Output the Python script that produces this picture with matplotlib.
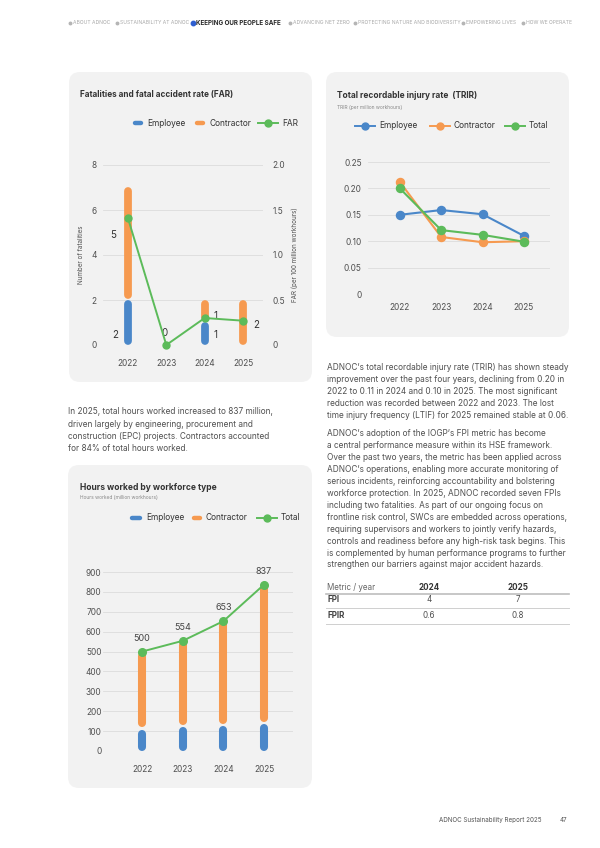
import matplotlib.pyplot as plt
from matplotlib.patches import FancyBboxPatch

plt.rcParams['font.family'] = ['Inter', 'DejaVu Sans']

years = ['2022', '2023', '2024', '2025']

# fatalities and FAR
fat_employee = [2, 0, 1, 0]
fat_contractor = [5, 0, 1, 2]
far = [1.41, 0.0, 0.30, 0.27]

# TRIR (per million workhours)
trir_employee = [0.150, 0.159, 0.151, 0.110]
trir_contractor = [0.212, 0.108, 0.098, 0.100]
trir_total = [0.200, 0.121, 0.112, 0.099]

# hours worked (million workhours)
hrs_employee = [108, 120, 125, 134]
hrs_total = [500, 554, 653, 837]
hrs_contractor = [t - e for t, e in zip(hrs_total, hrs_employee)]

# FPI table
tbl_years = ['2024', '2025']
tbl_rows = ['FPI', 'FPIR']
tbl_vals = [['4', '7'], ['0.6', '0.8']]

nav_items = ['ABOUT ADNOC', 'SUSTAINABILITY AT ADNOC', 'KEEPING OUR PEOPLE SAFE',
             'ADVANCING NET ZERO', 'PROTECTING NATURE AND BIODIVERSITY',
             'EMPOWERING LIVES', 'HOW WE OPERATE']
nav_active = 2

para_left = ["In 2025, total hours worked increased to 837 million,",
             "driven largely by engineering, procurement and",
             "construction (EPC) projects. Contractors accounted",
             "for 84% of total hours worked."]
para_right1 = ["ADNOC\u2019s total recordable injury rate (TRIR) has shown steady",
               "improvement over the past four years, declining from 0.20 in",
               "2022 to 0.11 in 2024 and 0.10 in 2025. The most significant",
               "reduction was recorded between 2022 and 2023. The lost",
               "time injury frequency (LTIF) for 2025 remained stable at 0.06."]
para_right2 = ["ADNOC\u2019s adoption of the IOGP\u2019s FPI metric has become",
               "a central performance measure within its HSE framework.",
               "Over the past two years, the metric has been applied across",
               "ADNOC\u2019s operations, enabling more accurate monitoring of",
               "serious incidents, reinforcing accountability and bolstering",
               "workforce protection. In 2025, ADNOC recorded seven FPIs",
               "including two fatalities. As part of our ongoing focus on",
               "frontline risk control, SWCs are embedded across operations,",
               "requiring supervisors and workers to jointly verify hazards,",
               "controls and readiness before any high-risk task begins. This",
               "is complemented by human performance programs to further",
               "strengthen our barriers against major accident hazards."]

BLUE = '#4a87c9'
ORANGE = '#f69a50'
GREEN = '#5cbb5a'
PANEL = '#f2f2f2'
GRID = '#dcdcdc'
TXT = '#505050'
DARK = '#333333'

W, H = 600, 848
fig = plt.figure(figsize=(W / 100, H / 100), dpi=100)
bg = fig.add_axes([0, 0, 1, 1], zorder=0)
bg.set_xlim(0, W)
bg.set_ylim(H, 0)
bg.axis('off')


def panel(x0, y0, x1, y1):
    bg.add_patch(FancyBboxPatch((x0, y0), x1 - x0, y1 - y0,
                                boxstyle='round,pad=0,rounding_size=11',
                                fc=PANEL, ec='none'))


def px_axes(x0, y0, x1, y1):
    ax = fig.add_axes([x0 / W, 1 - y1 / H, (x1 - x0) / W, (y1 - y0) / H], zorder=2)
    ax.patch.set_alpha(0)
    for s in ax.spines.values():
        s.set_visible(False)
    ax.tick_params(length=0, labelsize=6, labelcolor=TXT)
    ax.grid(axis='y', color=GRID, lw=0.6)
    ax.set_axisbelow(True)
    return ax


def rbars(ax, xs, bottom, top, color, lw, gap=1.2):
    # vertical bars with rounded ends, shortened so caps end on the values
    pos = ax.get_position()
    y0, y1 = ax.get_ylim()
    per_px = (y1 - y0) / (pos.height * H)
    r = lw * 100 / 72 / 2 * per_px
    g = gap * per_px
    for x, b, t in zip(xs, bottom, top):
        if t - b <= 0:
            continue
        lo = b + r + (g if b > 0 else 0)
        hi = t - r
        if hi < lo:
            lo = hi = (lo + hi) / 2
        ax.vlines(x, lo, hi, colors=color, lw=lw, capstyle='round', zorder=2)


def legend(items, y):
    for kind, color, label, x0, ln in items:
        if kind == 'bar':
            bg.plot([x0 + 2, x0 + ln - 2], [y, y], color=color, lw=3.2,
                    solid_capstyle='round')
        else:
            bg.plot([x0, x0 + ln], [y, y], color=color, lw=1.4)
            bg.plot([x0 + ln / 2], [y], 'o', color=color, ms=5)
        bg.text(x0 + ln + 4, y, label, va='center', ha='left', size=6, color=DARK)


def lines(x, y0, step, rows, size=5.95, color=TXT):
    for i, row in enumerate(rows):
        bg.text(x, y0 + i * step, row, va='center', ha='left', size=size, color=color)


# ---------------- header nav ----------------
nav_x = [70, 117, 193, 290, 355, 463, 523]
for i, (name, x) in enumerate(zip(nav_items, nav_x)):
    if i == nav_active:
        bg.plot([x], [23], 'o', color='#2f5fd0', ms=3.2)
        bg.text(x + 3.5, 23, name, va='center', size=4.5, weight='bold', color='#2a2a2a')
    else:
        bg.plot([x], [23], 'o', color='#b5b5b5', ms=1.8)
        bg.text(x + 3, 23, name, va='center', size=3.6, color='#a8a8a8')

# ---------------- panels ----------------
panel(69, 72, 312, 382)
panel(326, 72, 569, 337)
panel(68, 465, 312, 788)

# ---------------- chart 1: fatalities ----------------
bg.text(80, 95, 'Fatalities and fatal accident rate (FAR)', va='center', size=5.9,
        weight='bold', color=DARK)
legend([('bar', BLUE, 'Employee', 133, 10),
        ('bar', ORANGE, 'Contractor', 195, 10),
        ('line', GREEN, 'FAR', 258, 20)], 123)

ax1 = px_axes(103, 165, 263, 345)
xs = range(len(years))
ax1.set_xlim(-0.65, 3.52)
ax1.set_ylim(0, 8)
ax1.set_yticks([0, 2, 4, 6, 8])
ax1.set_xticks(list(xs))
ax1.set_xticklabels(years)
ax1.tick_params(axis='x', pad=10)
ax1.tick_params(axis='y', pad=4.5)
ax1.set_ylabel('Number of fatalities', size=4.5, color=TXT)
ax1.yaxis.set_label_coords(-0.12, 0.5)
stack_top = [e + c for e, c in zip(fat_employee, fat_contractor)]
rbars(ax1, xs, [0] * 4, fat_employee, BLUE, 5.6)
rbars(ax1, xs, fat_employee, stack_top, ORANGE, 5.6)

ax1r = ax1.twinx()
ax1r.patch.set_alpha(0)
for s in ax1r.spines.values():
    s.set_visible(False)
ax1r.set_ylim(0, 2)
ax1r.set_yticks([0, 0.5, 1, 1.5, 2])
ax1r.set_yticklabels(['0', '0.5', '1.0', '1.5', '2.0'])
ax1r.tick_params(length=0, labelsize=6, labelcolor=TXT, pad=7)
ax1r.set_ylabel('FAR (per 100 million workhours)', size=4.5, color=TXT)
ax1r.yaxis.set_label_coords(1.18, 0.5)
ax1r.plot(xs, far, color=GREEN, lw=1.4, marker='o', ms=5, clip_on=False, zorder=3)

# value labels (placement only)
emp_lab = [(-0.34, 0.45), (-0.04, 0.55), (0.29, 0.45), None]
con_lab = [(-0.39, 4.9), None, (0.29, 1.3), (0.34, 0.9)]
for i in xs:
    if emp_lab[i]:
        dx, yy = emp_lab[i]
        ax1.text(i + dx, yy, str(fat_employee[i]), ha='center', va='center', size=7, color=DARK)
    if con_lab[i]:
        dx, yy = con_lab[i]
        ax1.text(i + dx, yy, str(fat_contractor[i]), ha='center', va='center', size=7, color=DARK)

# ---------------- chart 2: TRIR ----------------
bg.text(337, 96, 'Total recordable injury rate  (TRIR)', va='center', size=6.0,
        weight='bold', color=DARK)
bg.text(337, 107, 'TRIR (per million workhours)', va='center', size=3.5, color='#888888')
legend([('line', BLUE, 'Employee', 355, 20),
        ('line', ORANGE, 'Contractor', 430, 20),
        ('line', GREEN, 'Total', 505, 20)], 126)

ax2 = px_axes(368, 162, 550, 294)
ax2.set_xlim(-0.77, 3.63)
ax2.set_ylim(0, 0.25)
ax2.set_yticks([0, 0.05, 0.10, 0.15, 0.20, 0.25])
ax2.set_yticklabels(['0', '0.05', '0.10', '0.15', '0.20', '0.25'])
ax2.set_xticks(list(xs))
ax2.set_xticklabels(years)
ax2.tick_params(axis='x', pad=6.5)
ax2.tick_params(axis='y', pad=4.5)
for vals, col in [(trir_employee, BLUE), (trir_contractor, ORANGE), (trir_total, GREEN)]:
    ax2.plot(xs, vals, color=col, lw=1.5, marker='o', ms=5.8, clip_on=False)

# ---------------- chart 3: hours worked ----------------
bg.text(80, 487, 'Hours worked by workforce type', va='center', size=6.1,
        weight='bold', color=DARK)
bg.text(80, 497, 'Hours worked (million workhours)', va='center', size=3.5, color='#888888')
legend([('bar', BLUE, 'Employee', 130, 12),
        ('bar', ORANGE, 'Contractor', 192, 10),
        ('line', GREEN, 'Total', 257, 20)], 518)

ax3 = px_axes(103, 572, 293, 751)
ax3.set_xlim(-0.96, 3.71)
ax3.set_ylim(0, 900)
ax3.set_yticks(range(0, 1000, 100))
ax3.set_xticks(list(xs))
ax3.set_xticklabels(years)
ax3.tick_params(axis='x', pad=10)
ax3.tick_params(axis='y', pad=1)
rbars(ax3, xs, [0] * 4, hrs_employee, BLUE, 5.8, gap=2.5)
rbars(ax3, xs, hrs_employee, hrs_total, ORANGE, 5.8, gap=2.5)
ax3.plot(xs, hrs_total, color=GREEN, lw=1.4, marker='o', ms=5.5, clip_on=False, zorder=3)
for i, v in enumerate(hrs_total):
    ax3.annotate(str(v), (i, v), xytext=(0, 9.5), textcoords='offset points',
                 ha='center', va='center', size=6.5, color='#444444',
                 annotation_clip=False)

# ---------------- body text ----------------
lines(68, 412, 12.1, para_left)
lines(327, 367, 12.2, para_right1)
lines(327, 434, 11.9, para_right2)

# ---------------- FPI table ----------------
col_x = [429, 518]
bg.text(327, 587, 'Metric / year', va='center', size=5.8, color='#666666')
for cx, yr in zip(col_x, tbl_years):
    bg.text(cx, 587, yr, va='center', ha='center', size=5.8, weight='bold', color=DARK)
bg.plot([326, 569], [594, 594], color='#bdbdbd', lw=1.2)
row_y = [600, 616]
for ry, name, vals in zip(row_y, tbl_rows, tbl_vals):
    bg.text(327, ry, name, va='center', size=5.8, weight='bold', color='#444444')
    for cx, v in zip(col_x, vals):
        bg.text(cx, ry, v, va='center', ha='center', size=5.8, color=TXT)
    bg.plot([326, 569], [ry + 7.5, ry + 7.5], color='#cfcfcf', lw=0.7)

# ---------------- footer ----------------
bg.text(439, 820, 'ADNOC Sustainability Report 2025', va='center', size=4.5, color='#555555')
bg.text(560, 820, '47', va='center', size=4.5, color='#555555')

fig.savefig('out.png', dpi=100, facecolor='white')
